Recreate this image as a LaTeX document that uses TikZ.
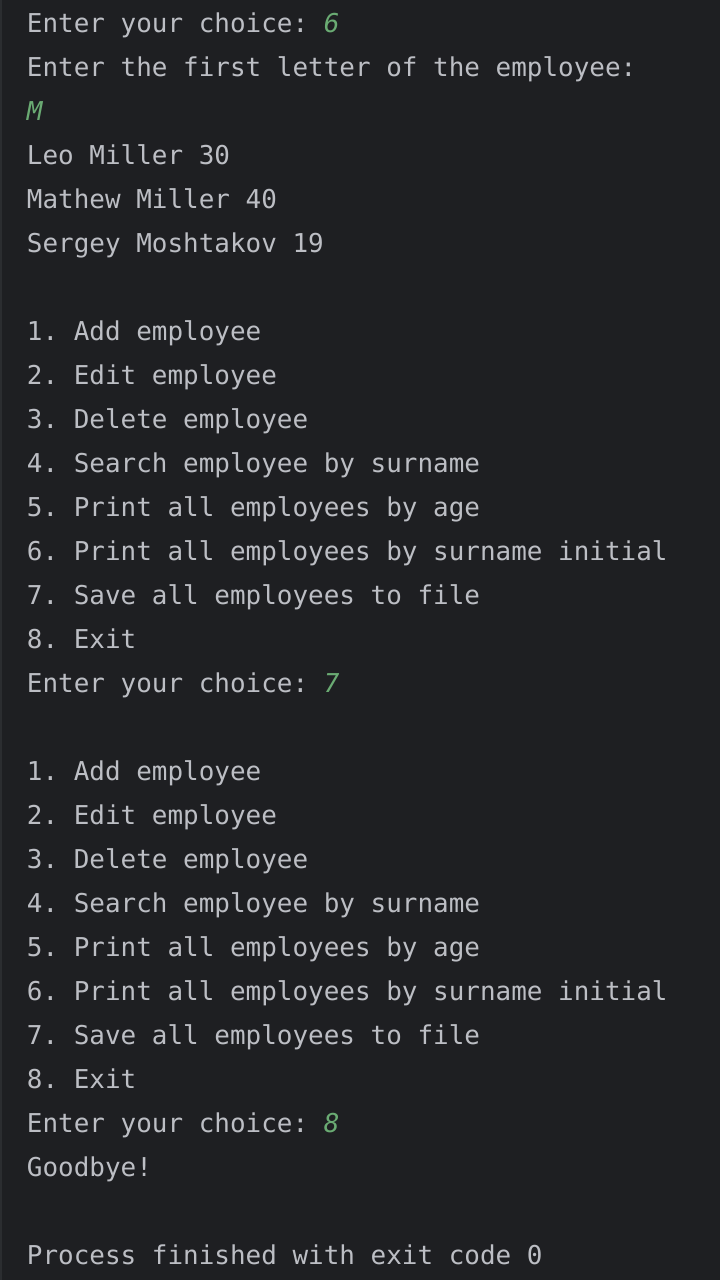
\documentclass[tikz,border=0pt]{standalone}
\usepackage{fontspec}
\setmonofont{DejaVu Sans Mono}
\definecolor{bg}{HTML}{1E1F22}
\definecolor{edge}{HTML}{2B2D30}
\definecolor{fg}{HTML}{BCBEC4}
\definecolor{inp}{HTML}{6AAB73}
\tikzset{
  termline/.style={anchor=base west, inner sep=0pt, outer sep=0pt, text=fg, font=\ttfamily\fontsize{25.95pt}{44pt}\selectfont},
}
\newcommand{\usr}[1]{{\color{inp}\itshape #1}}
\begin{document}
\begin{tikzpicture}[x=1pt,y=1pt]
\fill[bg] (0,0) rectangle (720,1280);
\useasboundingbox (0,0) rectangle (720,1280);
\fill[edge] (0,0) rectangle (1.5,1280);
\foreach \i/\t [count=\k] in {
 0/{Enter your choice: \usr{6}},
 1/{Enter the first letter of the employee:},
 2/{\usr{M}},
 3/{Leo Miller 30},
 4/{Mathew Miller 40},
 5/{Sergey Moshtakov 19},
 7/{1. Add employee},
 8/{2. Edit employee},
 9/{3. Delete employee},
 10/{4. Search employee by surname},
 11/{5. Print all employees by age},
 12/{6. Print all employees by surname initial},
 13/{7. Save all employees to file},
 14/{8. Exit},
 15/{Enter your choice: \usr{7}},
 17/{1. Add employee},
 18/{2. Edit employee},
 19/{3. Delete employee},
 20/{4. Search employee by surname},
 21/{5. Print all employees by age},
 22/{6. Print all employees by surname initial},
 23/{7. Save all employees to file},
 24/{8. Exit},
 25/{Enter your choice: \usr{8}},
 26/{Goodbye!},
 28/{Process finished with exit code 0}
}{
 \node[termline] (line\k) at (27, {1280-33-44*\i}) {\t};
}
\end{tikzpicture}
\end{document}
